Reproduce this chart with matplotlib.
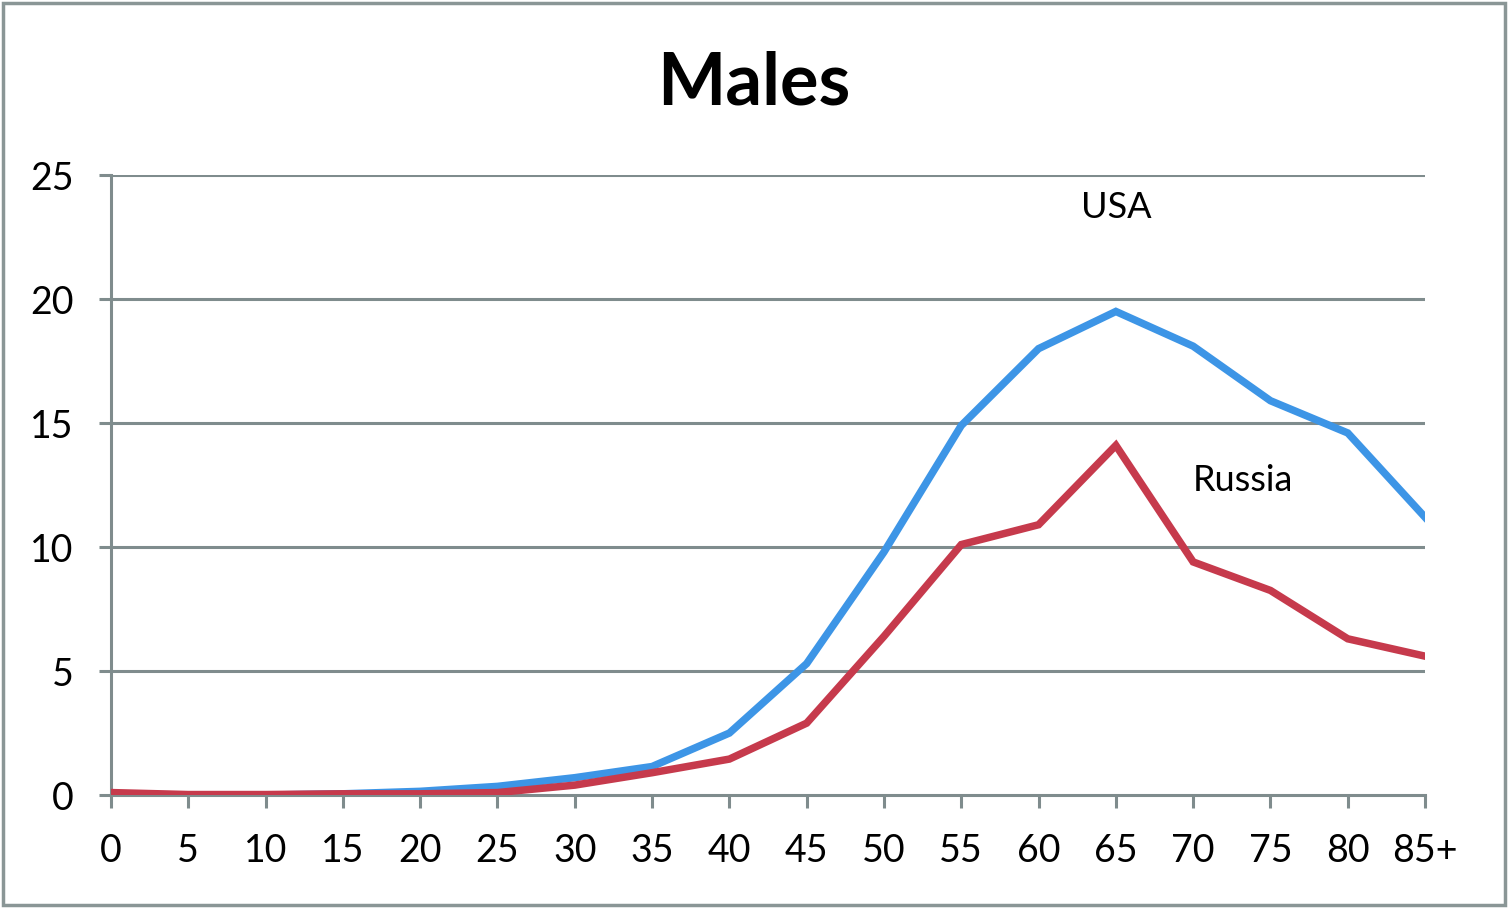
import matplotlib
matplotlib.use('Agg')
import matplotlib.pyplot as plt
from matplotlib.patches import Rectangle

# 数据
ages = ['0', '5', '10', '15', '20', '25', '30', '35', '40', '45',
        '50', '55', '60', '65', '70', '75', '80', '85+']
usa = [0.05, 0.0, 0.0, 0.05, 0.15, 0.35, 0.7, 1.15, 2.5, 5.3,
       9.8, 14.9, 18.0, 19.5, 18.1, 15.9, 14.6, 11.2]
russia = [0.1, 0.02, 0.02, 0.05, 0.05, 0.1, 0.4, 0.9, 1.45, 2.9,
          6.4, 10.1, 10.9, 14.1, 9.4, 8.25, 6.3, 5.6]
yticks = [0, 5, 10, 15, 20, 25]

plt.rcParams['font.family'] = ['Lato', 'DejaVu Sans']
grid_color = '#7f8c8d'

fig = plt.figure(figsize=(15.08, 9.08), dpi=100)
ax = fig.add_axes([0.0736, 0.1244, 0.8714, 0.6828])

x = list(range(len(ages)))
ax.plot(x, usa, color='#3d95e6', lw=5.4, solid_joinstyle='miter', zorder=3)
ax.plot(x, russia, color='#c63a4c', lw=5.4, solid_joinstyle='miter', zorder=4)

ax.set_xlim(0, len(ages) - 1)
ax.set_ylim(0, 25)
ax.set_yticks(yticks)
ax.set_xticks(x)
ax.set_xticklabels(ages)

for y in yticks[1:]:
    ax.axhline(y, color=grid_color, lw=2.2, zorder=1)

for s in ['top', 'right']:
    ax.spines[s].set_visible(False)
for s in ['left', 'bottom']:
    ax.spines[s].set_color(grid_color)
    ax.spines[s].set_linewidth(2.2)

ax.tick_params(axis='y', length=9, width=2.2, color=grid_color,
               labelsize=27, pad=18)
ax.tick_params(axis='x', length=9, width=2.2, color=grid_color,
               labelsize=27, pad=18)

ax.text(13, 23.7, 'USA', fontsize=26, ha='center', va='center')
ax.text(14.64, 12.7, 'Russia', fontsize=26, ha='center', va='center')

fig.text(0.5, 0.907, 'Males', fontsize=52, fontweight='bold',
         ha='center', va='center')

# 外边框
fig.patches.append(Rectangle((0.002, 0.003), 0.996, 0.994, transform=fig.transFigure,
                             fill=False, edgecolor='#8a9696', lw=2.5))

fig.savefig('out.png', dpi=100)
